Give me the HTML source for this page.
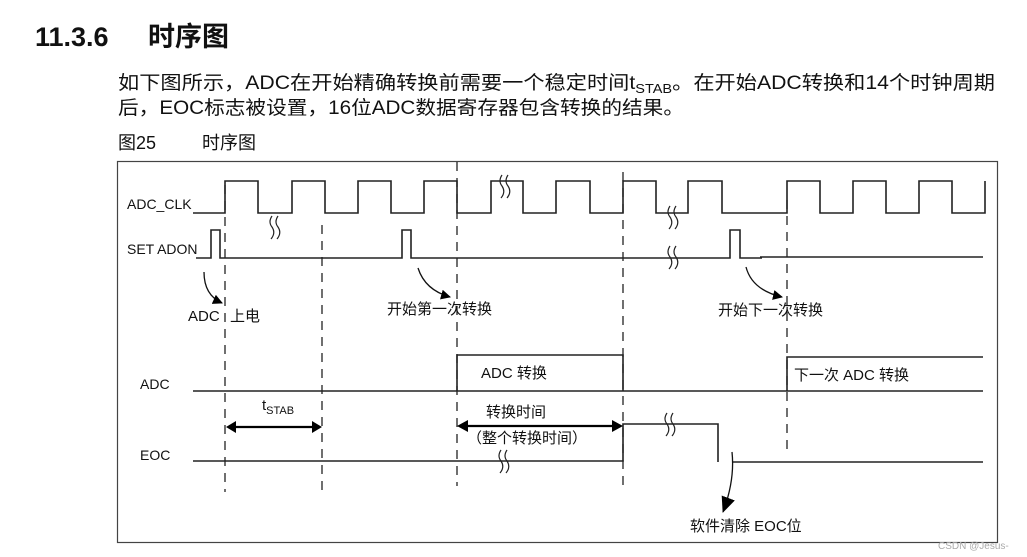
<!DOCTYPE html>
<html><head><meta charset="utf-8"><style>
html,body{margin:0;padding:0;background:#fff;}
svg{display:block;}
text{font-family:"Liberation Sans","Noto Sans CJK SC",sans-serif;fill:#111;}
</style></head><body>
<svg width="1027" height="557" viewBox="0 0 1027 557" xmlns="http://www.w3.org/2000/svg">
<defs>
<marker id="ah" markerWidth="10" markerHeight="10" refX="9" refY="5" orient="auto" markerUnits="userSpaceOnUse"><path d="M0,0 L10,5 L0,10 z" fill="#000"/></marker>
<marker id="ab" markerWidth="16" markerHeight="14" refX="15" refY="7" orient="auto" markerUnits="userSpaceOnUse"><path d="M0,0 L16,7 L0,14 z" fill="#000"/></marker>
</defs>
<text x="35" y="46" font-size="27" font-weight="bold">11.3.6</text>
<text x="148" y="46" font-size="27" font-weight="bold">时序图</text>
<text x="118" y="89" font-size="19" textLength="877" lengthAdjust="spacingAndGlyphs">如下图所示，ADC在开始精确转换前需要一个稳定时间t<tspan font-size="13" dy="4">STAB</tspan><tspan dy="-4">。在开始ADC转换和14个时钟周期</tspan></text>
<text x="118" y="114" font-size="19" textLength="566" lengthAdjust="spacingAndGlyphs">后，EOC标志被设置，16位ADC数据寄存器包含转换的结果。</text>
<text x="118" y="149" font-size="18">图25</text>
<text x="202" y="149" font-size="18">时序图</text>

<rect x="117.5" y="161.5" width="880" height="381" fill="none" stroke="#444" stroke-width="1.2"/>

<g font-size="14">
<text x="127" y="209">ADC_CLK</text>
<text x="127" y="254">SET ADON</text>
<text x="140" y="389">ADC</text>
<text x="140" y="460">EOC</text>
</g>

<g fill="none" stroke="#222" stroke-width="1.6">
<path d="M193,213 H225 V181 H258 V213 H292 V181 H325 V213 H358 V181 H391 V213 H424 V181 H457 V213 H491 V181 H523 V213 H556 V181 H590 V213 H623 V181 H656 V213 H688 V181 H722 V213 H787 V181 H820 V213 H853 V181 H886 V213 H919 V181 H952 V213 H985 V181"/>
<path d="M196,258 H211 V230 H220 V258 H245 M243,258 H402 V230 H411 V258 H730 V230 H740 V258 H762 M760,257 H983"/>
<path d="M193,391 H983 M457,391 V355 H623 V391 M787,391 V357 H983"/>
<path d="M193,461 H623 V424 H718 V462 M733,462 H983"/>
</g>

<g fill="none" stroke="#222" stroke-width="1.3" stroke-dasharray="9,7">
<line x1="225" y1="185" x2="225" y2="492"/>
<line x1="322" y1="225" x2="322" y2="492"/>
<line x1="457" y1="162" x2="457" y2="486"/>
<line x1="623" y1="172" x2="623" y2="486"/>
<line x1="787" y1="200" x2="787" y2="450"/>
</g>

<g fill="none" stroke="#222" stroke-width="1.2">
<path d="M272,216 q-4,6 0,11 q4,6 -1,12 M278,216 q-4,6 0,11 q4,6 -1,12"/>
<path d="M502,175 q-4,6 0,11 q4,6 -1,12 M508,175 q-4,6 0,11 q4,6 -1,12"/>
<path d="M670,206 q-4,6 0,11 q4,6 -1,12 M676,206 q-4,6 0,11 q4,6 -1,12"/>
<path d="M670,246 q-4,6 0,11 q4,6 -1,12 M676,246 q-4,6 0,11 q4,6 -1,12"/>
<path d="M667,413 q-4,6 0,11 q4,6 -1,12 M673,413 q-4,6 0,11 q4,6 -1,12"/>
<path d="M332,450 q-4,6 0,11 q4,6 -1,12 M338,450 q-4,6 0,11 q4,6 -1,12" transform="translate(-0,0)" opacity="0"/>
<path d="M331,450 q-4,6 0,11 q4,6 -1,12" opacity="0"/>
<path d="M332,450" />
<path d="M331,450 M331,450"/>
<path d="M332,450 M332,450"/>
<path d="M334,450 M334,450"/>
<path d="M336,450 M336,450"/>
<path d="M332,450 M332,450"/>
<path d="M332,450 M332,450"/>
<path d="M331,450"/>
<path d="M332,450"/>
<path d="M501,450 q-4,6 0,11 q4,6 -1,12 M507,450 q-4,6 0,11 q4,6 -1,12"/>
</g>

<g fill="none" stroke="#111" stroke-width="1.3">
<path d="M204,272 Q204,295 222,303" marker-end="url(#ah)"/>
<path d="M418,268 Q425,290 450,297" marker-end="url(#ah)"/>
<path d="M746,267 Q752,290 782,297" marker-end="url(#ah)"/>
<path d="M732,452 Q735,480 723,512" marker-end="url(#ab)"/>
</g>

<g stroke="#000" stroke-width="2.2" fill="none">
<line x1="232" y1="427" x2="316" y2="427"/>
<line x1="463" y1="426" x2="617" y2="426"/>
</g>
<path d="M226,427 L236,421 L236,433 z M322,427 L312,421 L312,433 z" fill="#000"/>
<path d="M457,426 L468,420 L468,432 z M623,426 L612,420 L612,432 z" fill="#000"/>

<g font-size="15">
<text x="188" y="321">ADC</text>
<text x="230" y="321">上电</text>
<text x="387" y="314">开始第一次转换</text>
<text x="718" y="315">开始下一次转换</text>
<text x="481" y="378">ADC 转换</text>
<text x="794" y="380">下一次 ADC 转换</text>
<text x="262" y="410">t<tspan font-size="11" dy="4">STAB</tspan></text>
<text x="486" y="417">转换时间</text>
<text x="467" y="443">（整个转换时间）</text>
<text x="690" y="531">软件清除 EOC位</text>
</g>
<text x="938" y="549" font-size="10" fill="#aaa" style="fill:#aaa">CSDN @Jesus-</text>
</svg>
</body></html>
